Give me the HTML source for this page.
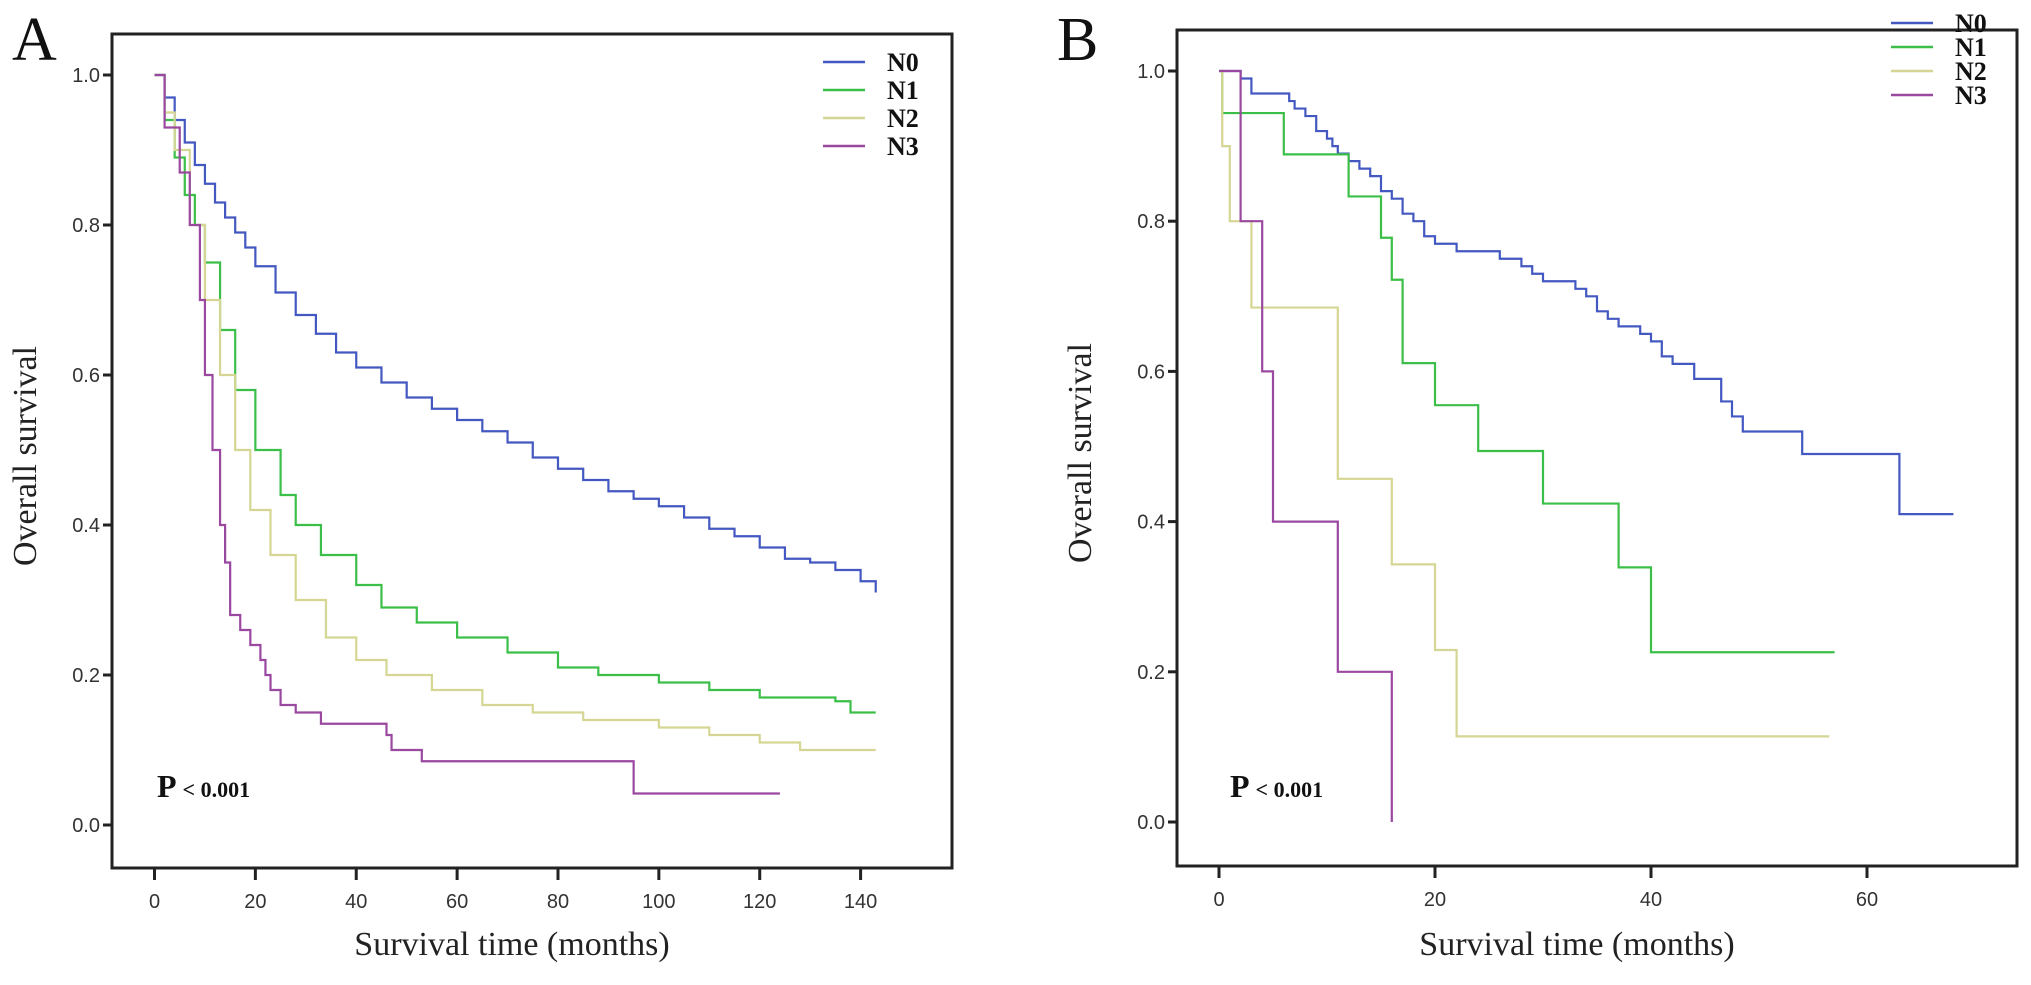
<!DOCTYPE html>
<html><head><meta charset="utf-8"><style>
body{margin:0;background:#fff}
svg{display:block}
.tick{font-family:"Liberation Sans",Arial,sans-serif;font-size:20px;fill:#333}
.ser{font-family:"Liberation Serif","Times New Roman",serif}
</style></head><body>
<svg id="c" width="2031" height="985" viewBox="0 0 2031 985" xmlns="http://www.w3.org/2000/svg"></svg>
<script>
// Panel A data
const aN0t=[0,2,4,6,8,10,12,14,16,18,20,24,28,32,36,40,45,50,55,60,65,70,75,80,85,90,95,100,105,110,115,120,125,130,135,140,143];
const aN0s=[1,0.97,0.94,0.91,0.88,0.855,0.83,0.81,0.79,0.77,0.745,0.71,0.68,0.655,0.63,0.61,0.59,0.57,0.555,0.54,0.525,0.51,0.49,0.475,0.46,0.445,0.435,0.425,0.41,0.395,0.385,0.37,0.355,0.35,0.34,0.325,0.31];
const aN1t=[0,2,4,6,8,10,13,16,20,25,28,33,40,45,52,60,70,80,88,100,110,120,135,138,143];
const aN1s=[1,0.94,0.89,0.84,0.8,0.75,0.66,0.58,0.5,0.44,0.4,0.36,0.32,0.29,0.27,0.25,0.23,0.21,0.2,0.19,0.18,0.17,0.165,0.15,0.15];
const aN2t=[0,2,4,7,10,13,16,19,23,28,34,40,46,55,65,75,85,100,110,120,128,143];
const aN2s=[1,0.95,0.9,0.8,0.7,0.6,0.5,0.42,0.36,0.3,0.25,0.22,0.2,0.18,0.16,0.15,0.14,0.13,0.12,0.11,0.1,0.1];
const aN3t=[0,2,5,7,9,10,11.5,13,14,15,17,19,21,22,23,25,28,33,46,47,53,95,124];
const aN3s=[1,0.93,0.87,0.8,0.7,0.6,0.5,0.4,0.35,0.28,0.26,0.24,0.22,0.2,0.18,0.16,0.15,0.135,0.12,0.1,0.085,0.042,0.042];
// Panel B data
const bN0t=[0,2,3,6.5,7,8,9,10,10.5,11,12,13,14,15,16,17,18,19,20,22,26,28,29,30,33,34,35,36,37,39,40,41,42,44,46.5,47.5,48.5,54,63,68];
const bN0s=[1,0.99,0.97,0.96,0.95,0.94,0.92,0.91,0.9,0.89,0.88,0.87,0.86,0.84,0.83,0.81,0.8,0.78,0.77,0.76,0.75,0.74,0.73,0.72,0.71,0.7,0.68,0.67,0.66,0.65,0.64,0.62,0.61,0.59,0.56,0.54,0.52,0.49,0.41,0.41];
const bN1t=[0,0.3,6,12,15,16,17,20,24,30,37,40,57];
const bN1s=[1,0.944,0.889,0.833,0.778,0.722,0.611,0.555,0.494,0.424,0.339,0.226,0.226];
const bN2t=[0,0.3,1,3,11,16,20,22,56.5];
const bN2s=[1,0.9,0.8,0.685,0.457,0.343,0.229,0.114,0.114];
const bN3t=[0,2,4,5,11,16];
const bN3s=[1,0.8,0.6,0.4,0.2,0.0];
const yTicks=[0,0.2,0.4,0.6,0.8,1.0];
const aXTicks=[0,20,40,60,80,100,120,140];
const bXTicks=[0,20,40,60];
const groups=["N0","N1","N2","N3"];
const colors=["#4358c0","#3cbf48","#d6d694","#9a48a0"];

const svg=document.getElementById('c');
const NS="http://www.w3.org/2000/svg";
function mk(tag,attrs,parent){const e=document.createElementNS(NS,tag);for(const k in attrs)e.setAttribute(k,attrs[k]);(parent||svg).appendChild(e);return e;}

function panel(cfg){
  const g=mk('g',{});
  
  
  const xs=v=>cfg.x0+(v-0)*(cfg.x1-cfg.x0)/cfg.xmaxTick;
  const ys=v=>cfg.y0-v*(cfg.y0-cfg.y1);
  const box=mk('rect',{x:cfg.L,y:cfg.T,width:cfg.R-cfg.L,height:cfg.B-cfg.T,fill:'none',stroke:'#222','stroke-width':3},g);
  
  
  yTicks.forEach(v=>{
    const l=mk('line',{x1:cfg.L-9,x2:cfg.L,y1:ys(v),y2:ys(v),stroke:'#222','stroke-width':3},g);
    
    
    const t=mk('text',{x:cfg.L-12,y:ys(v)+7,'text-anchor':'end',class:'tick'},g);
    t.textContent=v.toFixed(1);
    
    
  });
  cfg.xTicks.forEach(v=>{
    const l=mk('line',{x1:xs(v),x2:xs(v),y1:cfg.B,y2:cfg.B+12,stroke:'#222','stroke-width':3},g);
    
    
    const t=mk('text',{x:xs(v),y:cfg.B+40,'text-anchor':'middle',class:'tick'},g);
    t.textContent=v;
    
    
  });
  cfg.series.forEach((s,i)=>{
    let d='M'+xs(s[0][0])+','+ys(s[1][0]);
    for(let k=1;k<s[0].length;k++){d+=' H'+xs(s[0][k])+' V'+ys(s[1][k]);}
    const p=mk('path',{d:d,fill:'none',stroke:colors[i],'stroke-width':2.2},g);
    
    
  });
  groups.forEach((n,i)=>{
    const y=cfg.legY+i*cfg.legDy;
    const l=mk('line',{x1:cfg.legX,x2:cfg.legX+42,y1:y,y2:y,stroke:colors[i],'stroke-width':2.5},g);
    
    
    const t=mk('text',{x:cfg.legX+64,y:y+9,class:'ser','font-size':26,'font-weight':'bold',fill:'#111'},g);
    t.textContent=n;
    
    
  });
  const pt=mk('text',{x:cfg.pX,y:cfg.pY,class:'ser','font-weight':'bold',fill:'#111'},g);
  pt.innerHTML='<tspan font-size="32">P</tspan><tspan font-size="22" dx="6">&lt; 0.001</tspan>';
  
  
  const xt=mk('text',{x:(cfg.L+cfg.R)/2-20,y:955,'text-anchor':'middle',class:'ser','font-size':34,fill:'#222'},g);
  xt.textContent='Survival time (months)';
  
  
  const yt=mk('text',{x:0,y:0,'text-anchor':'middle',class:'ser','font-size':34,fill:'#222',transform:'translate('+cfg.ytX+','+((cfg.T+cfg.B)/2+5)+') rotate(-90)'},g);
  yt.textContent='Overall survival';
  
  
  const lt=mk('text',{x:cfg.letX,y:60,class:'ser','font-size':62,fill:'#111'},g);
  lt.textContent=cfg.letter;
  
  
}
panel({name:'panel-a',letter:'A',letX:12,L:112,R:952,T:34,B:868,x0:154.5,x1:860.6,xmaxTick:140,y0:825,y1:75,
  xTicks:aXTicks,series:[[aN0t,aN0s],[aN1t,aN1s],[aN2t,aN2s],[aN3t,aN3s]],
  legX:823,legY:62,legDy:28,pX:157,pY:797,ytX:36});
panel({name:'panel-b',letter:'B',letX:1057,L:1177,R:2017,T:30,B:866,x0:1219,x1:1867,xmaxTick:60,y0:822,y1:71,
  xTicks:bXTicks,series:[[bN0t,bN0s],[bN1t,bN1s],[bN2t,bN2s],[bN3t,bN3s]],
  legX:1891,legY:23,legDy:24,pX:1230,pY:797,ytX:1091});
</script>
</body></html>
